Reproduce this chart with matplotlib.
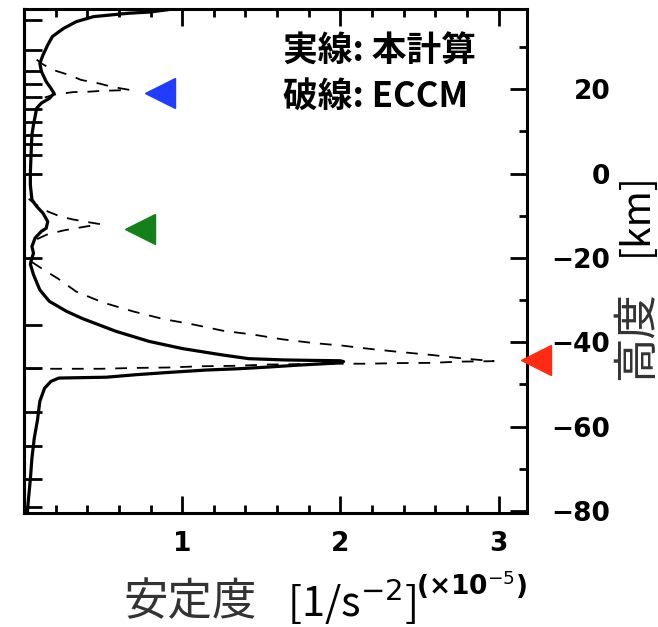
import matplotlib
matplotlib.use('Agg')
import matplotlib.pyplot as plt
from matplotlib.ticker import MultipleLocator, FixedLocator

CJK = ['Noto Sans CJK JP', 'DejaVu Sans']

# ------------------------------------------------------------------ DATA
# Static stability (x1e-5 1/s^2) vs height (km), this calculation
calc_height = [39.3, 38.3, 38.0, 37.6, 37.2, 36.0, 34.4, 32.5, 30.5, 28.1,
               26.1, 24.2, 21.8, 20.2, 19.0, 17.8, 16.7, 15.5, 13.5, 11.6,
               9.2, 5.0, 0.0, -2.7, -6.2, -7.8, -9.4, -11.4, -13.0, -13.7,
               -15.3, -17.3, -18.9, -20.0, -21.5, -24.0, -27.6, -30.3, -32.7,
               -34.4, -37.4, -39.8, -41.5, -43.0, -43.9, -44.2, -44.3, -44.4,
               -44.6, -45.0, -45.4, -45.9, -46.3, -46.6, -47.2, -47.7, -48.3,
               -48.5, -49.3, -50.9, -54.0, -58.5, -62.7, -67.5, -72.5, -78.5,
               -81.0]
calc_stab = [1.00, 0.80, 0.66, 0.55, 0.44, 0.33, 0.25, 0.18, 0.15, 0.12,
             0.10, 0.11, 0.14, 0.17, 0.19, 0.16, 0.11, 0.08, 0.07, 0.06,
             0.05, 0.045, 0.04, 0.04, 0.05, 0.08, 0.12, 0.15, 0.14, 0.11,
             0.07, 0.05, 0.06, 0.05, 0.04, 0.06, 0.10, 0.16, 0.27,
             0.37, 0.58, 0.79, 1.00, 1.25, 1.42, 1.64, 1.80, 2.00,
             2.02, 1.95, 1.75, 1.54, 1.35, 1.15, 0.90, 0.71, 0.52,
             0.22, 0.17, 0.13, 0.10, 0.085, 0.065, 0.05, 0.04, 0.025,
             0.02]

# ECCM curves around the three critical levels
eccm_upper_stab = [0.08, 0.11, 0.18, 0.29, 0.36, 0.48, 0.55, 0.67,
                   0.49, 0.41, 0.31, 0.25, 0.19, 0.13]
eccm_upper_height = [27.0, 26.1, 24.6, 23.3, 22.2, 21.3, 20.6, 19.8,
                     19.6, 19.4, 19.3, 19.0, 18.7, 18.0]

eccm_mid_stab = [0.03, 0.06, 0.15, 0.23, 0.31, 0.40, 0.48,
                 0.34, 0.25, 0.15, 0.08, 0.04]
eccm_mid_height = [-6.0, -7.0, -9.0, -10.2, -10.9, -11.5, -12.0,
                   -12.9, -13.5, -14.4, -15.6, -17.0]

eccm_low_stab = [0.05, 0.14, 0.21, 0.33, 0.50, 0.69, 0.88, 1.07, 1.26, 1.45,
                 1.63, 1.83, 2.01, 2.19, 2.37, 2.57, 2.76, 2.97,
                 2.76, 2.57, 2.38, 2.17, 1.96, 1.75, 1.54, 1.33, 1.12, 0.91,
                 0.70, 0.49, 0.28, 0.02]
eccm_low_height = [-21.0, -23.2, -24.8, -28.0, -30.6, -32.7, -34.5, -35.8,
                   -37.3, -38.2, -39.3, -40.2, -40.8, -41.6, -42.3, -43.0,
                   -43.8, -44.5,
                   -44.6, -44.9, -44.95, -45.1, -45.1, -45.2, -45.3, -45.6,
                   -45.7, -46.0, -46.1, -46.3, -46.3, -46.3]

# markers for the critical levels
tri_stab = [0.86, 0.735, 3.24]
tri_height = [19.0, -13.2, -44.2]
tri_colors = ['#1f3cff', '#14801a', '#ff2a14']

# model layer levels (km) marked on the left axis
layer_levels = [36.5, 29.4, 24.2, 21.3, 18.2, 15.2, 12.3, 9.2, 6.9, 4.5,
                0.0, -20.0, -36.0, -46.0, -56.6, -64.5, -72.5, -79.0]

# --------------------------------------------------------------- FIGURE
fig = plt.figure(figsize=(6.58, 6.27), dpi=100)
fig.patch.set_facecolor('white')
ax = fig.add_axes([0.0365, 0.1818, 0.7644, 0.8038])

ax.plot(calc_stab, calc_height, color='black', lw=2.3, zorder=3)
for xs, ys in [(eccm_upper_stab, eccm_upper_height),
               (eccm_mid_stab, eccm_mid_height),
               (eccm_low_stab, eccm_low_height)]:
    ax.plot(xs, ys, color='black', lw=1.3, dashes=(6.5, 5.5), zorder=2)

for x, y, c in zip(tri_stab, tri_height, tri_colors):
    ax.plot(x, y, marker='<', ms=21, color=c, ls='none',
            clip_on=False, zorder=6)

ax.set_xlim(0, 3.18)
ax.set_ylim(-80.5, 39)

for sp in ax.spines.values():
    sp.set_linewidth(2.2)

# x ticks on both bottom and top
ax.xaxis.set_major_locator(FixedLocator([1, 2, 3]))
ax.xaxis.set_minor_locator(MultipleLocator(0.2))
ax.tick_params(axis='x', which='both', direction='in', top=True,
               bottom=True, width=2.0, labelsize=19, pad=13)
ax.tick_params(axis='x', which='major', length=12)
ax.tick_params(axis='x', which='minor', length=6)
for lbl in ax.get_xticklabels():
    lbl.set_fontweight('bold')

# height ticks on the right
ax.yaxis.tick_right()
ax.yaxis.set_major_locator(MultipleLocator(20))
ax.yaxis.set_minor_locator(MultipleLocator(10))
ax.tick_params(axis='y', which='both', direction='in', left=False,
               right=True, width=2.0, labelsize=19, pad=60)
ax.tick_params(axis='y', which='major', length=12)
ax.tick_params(axis='y', which='minor', length=6)
for t in ax.yaxis.get_major_ticks():
    t.label2.set_horizontalalignment('right')
    t.label2.set_fontweight('bold')

# layer levels on the left
sec = ax.secondary_yaxis('left')
sec.set_yticks(layer_levels)
sec.tick_params(direction='in', length=13, width=2.0, labelleft=False)
sec.spines['left'].set_linewidth(2.2)

# legend text
ax.text(0.515, 0.950, '実線: 本計算', transform=ax.transAxes, fontsize=25,
        fontweight='bold', family=CJK, va='top', ha='left')
ax.text(0.515, 0.861, '破線: ECCM', transform=ax.transAxes, fontsize=25,
        fontweight='bold', family=CJK, va='top', ha='left')

# axis titles
fig.text(123 / 658, 1 - 602 / 627, '安定度', fontsize=32, family=CJK,
         color='#333333', ha='left', va='center')
fig.text(287 / 658, 1 - 602 / 627, '[1/s$^{-2}$]', fontsize=30, family=CJK,
         color='black', ha='left', va='center')
fig.text(416 / 658, 1 - 585 / 627, '(×10$^{-5}$)', fontsize=19,
         fontweight='bold', color='black', ha='left', va='center')

fig.text(636 / 658, 1 - 335 / 627, '高度', fontsize=32, family=CJK,
         color='#333333', rotation=90, ha='center', va='center')
fig.text(636 / 658, 1 - 214 / 627, '[km]', fontsize=28, family=CJK,
         color='black', rotation=90, ha='center', va='center')

fig.savefig('out.png', dpi=100)
